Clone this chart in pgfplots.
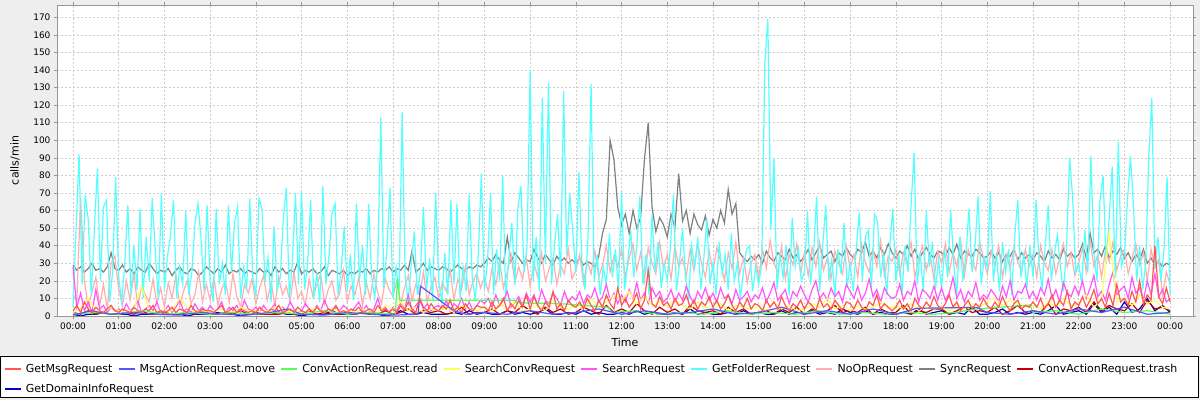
\documentclass[border=0pt]{standalone}
\usepackage{fontspec}
\setmainfont{DejaVu Sans}
\usepackage{pgfplots}
\usepackage{pgfplotstable}
\pgfplotsset{compat=1.18}
\definecolor{bgc}{RGB}{238,238,238}
\definecolor{cRed}{RGB}{255,85,85}
\definecolor{cBlue}{RGB}{85,85,255}
\definecolor{cGreen}{RGB}{85,255,85}
\definecolor{cYellow}{RGB}{255,255,85}
\definecolor{cMag}{RGB}{255,85,255}
\definecolor{cCyan}{RGB}{85,255,255}
\definecolor{cPink}{RGB}{255,175,175}
\definecolor{cGray}{RGB}{128,128,128}
\definecolor{cDRed}{RGB}{192,0,0}
\definecolor{cDBlue}{RGB}{0,0,192}
\definecolor{gridc}{RGB}{205,205,205}
\definecolor{axc}{RGB}{150,150,150}

% SyncRequest, every 5 min
\pgfplotstableread[header=false,row sep=\\]{
29\\26\\28\\25\\27\\30\\26\\27\\25\\28\\36\\27\\
26\\29\\25\\27\\24\\28\\26\\25\\30\\27\\24\\26\\
25\\27\\23\\26\\28\\25\\24\\27\\26\\23\\25\\28\\
26\\24\\27\\25\\29\\24\\26\\25\\27\\24\\26\\25\\
24\\27\\25\\26\\23\\28\\25\\27\\24\\26\\25\\31\\
24\\26\\25\\27\\24\\25\\28\\23\\26\\25\\24\\26\\
23\\25\\24\\26\\25\\27\\24\\26\\25\\27\\26\\28\\
25\\27\\26\\29\\26\\37\\25\\27\\30\\26\\28\\27\\
26\\28\\27\\25\\27\\29\\27\\26\\28\\27\\29\\28\\
30\\33\\31\\35\\32\\30\\45\\31\\36\\33\\30\\32\\
31\\38\\33\\30\\35\\32\\29\\34\\31\\33\\30\\32\\
30\\33\\29\\31\\30\\28\\34\\47\\55\\100\\89\\62\\
52\\58\\47\\60\\50\\56\\89\\110\\62\\48\\56\\52\\
45\\58\\50\\81\\54\\60\\47\\58\\52\\49\\57\\46\\
55\\50\\60\\53\\72\\58\\64\\36\\33\\31\\34\\32\\
35\\30\\37\\33\\31\\36\\34\\32\\38\\33\\35\\31\\
34\\38\\32\\36\\40\\33\\35\\37\\31\\36\\34\\39\\
35\\33\\38\\36\\42\\34\\37\\33\\39\\35\\41\\36\\
33\\37\\35\\40\\34\\38\\32\\36\\39\\35\\33\\37\\
36\\34\\39\\35\\41\\33\\37\\35\\34\\38\\36\\33\\
34\\37\\33\\36\\31\\35\\34\\38\\32\\36\\33\\35\\
32\\36\\34\\31\\37\\33\\35\\32\\38\\34\\36\\33\\
35\\41\\33\\47\\36\\38\\34\\40\\33\\37\\35\\39\\
33\\36\\31\\35\\32\\38\\30\\33\\29\\31\\28\\30\\
29\\
}\tGray

% NoOpRequest, every 5 min
\pgfplotstableread[header=false,row sep=\\]{
12\\8\\67\\20\\5\\14\\22\\6\\18\\4\\30\\34\\
15\\6\\20\\9\\24\\5\\17\\12\\8\\21\\7\\16\\
5\\19\\10\\23\\6\\14\\20\\7\\12\\25\\8\\18\\
9\\22\\6\\15\\20\\8\\24\\11\\5\\18\\13\\21\\
7\\16\\23\\9\\19\\6\\22\\12\\17\\8\\25\\10\\
14\\6\\21\\11\\18\\24\\7\\15\\20\\9\\13\\26\\
8\\17\\12\\22\\6\\19\\10\\24\\13\\7\\21\\15\\
11\\20\\7\\16\\23\\9\\18\\12\\25\\8\\17\\22\\
10\\19\\14\\26\\9\\21\\15\\28\\12\\20\\24\\16\\
22\\14\\27\\18\\31\\16\\25\\35\\19\\28\\21\\33\\
17\\30\\22\\36\\20\\27\\33\\18\\29\\24\\38\\21\\
26\\35\\19\\31\\24\\37\\22\\29\\40\\25\\34\\28\\
38\\22\\33\\41\\26\\36\\20\\39\\30\\24\\42\\27\\
35\\21\\40\\28\\33\\23\\38\\26\\41\\30\\22\\37\\
25\\39\\31\\20\\36\\27\\42\\24\\33\\19\\30\\35\\
22\\38\\27\\43\\30\\25\\40\\21\\35\\29\\41\\24\\
36\\23\\39\\28\\42\\26\\33\\21\\37\\30\\24\\40\\
27\\35\\22\\41\\30\\25\\38\\28\\43\\23\\34\\31\\
38\\24\\36\\29\\42\\22\\33\\40\\26\\35\\21\\37\\
30\\41\\25\\36\\28\\43\\23\\38\\31\\26\\42\\33\\
24\\37\\29\\40\\22\\35\\27\\39\\31\\25\\38\\28\\
35\\22\\40\\30\\26\\38\\24\\33\\41\\28\\36\\23\\
30\\39\\25\\43\\28\\35\\22\\37\\31\\42\\26\\34\\
38\\24\\33\\41\\29\\36\\20\\38\\27\\32\\12\\25\\
18\\
}\tPink

% GetFolderRequest, every 4 min
\pgfplotstableread[header=false,row sep=\\]{
5\\49\\92\\18\\69\\55\\12\\49\\84\\20\\62\\66\\8\\25\\79\\
22\\8\\30\\63\\12\\40\\15\\61\\10\\45\\20\\67\\37\\9\\70\\
15\\34\\46\\66\\10\\28\\18\\60\\12\\25\\52\\64\\45\\14\\63\\
20\\8\\61\\18\\30\\12\\63\\25\\53\\62\\10\\28\\15\\67\\22\\
12\\67\\61\\20\\33\\8\\51\\15\\22\\55\\73\\10\\31\\70\\18\\
71\\15\\30\\66\\10\\24\\8\\74\\18\\34\\59\\64\\12\\26\\51\\
14\\35\\9\\64\\20\\40\\12\\64\\22\\10\\30\\113\\16\\38\\73\\
10\\28\\14\\116\\22\\8\\30\\48\\12\\25\\62\\15\\33\\9\\70\\
20\\8\\36\\12\\66\\18\\64\\10\\28\\14\\69\\22\\9\\35\\81\\
15\\30\\70\\12\\38\\20\\80\\10\\33\\53\\18\\62\\74\\25\\40\\
140\\20\\45\\14\\124\\30\\133\\18\\40\\58\\22\\128\\35\\70\\48\\
25\\82\\30\\15\\45\\132\\20\\35\\12\\28\\18\\47\\22\\38\\15\\
71\\15\\30\\49\\22\\40\\68\\18\\35\\12\\58\\25\\42\\16\\30\\
20\\38\\69\\14\\30\\50\\22\\10\\40\\28\\45\\15\\33\\55\\18\\
30\\12\\42\\24\\35\\15\\47\\20\\30\\10\\25\\38\\40\\14\\28\\
18\\30\\143\\169\\49\\90\\15\\35\\22\\40\\12\\56\\28\\38\\20\\
25\\60\\18\\35\\68\\14\\40\\63\\20\\32\\12\\38\\24\\53\\16\\
30\\14\\38\\59\\20\\45\\49\\16\\58\\54\\22\\35\\12\\40\\61\\
20\\34\\12\\40\\25\\63\\93\\18\\36\\14\\60\\28\\42\\15\\32\\
15\\38\\22\\60\\30\\12\\45\\20\\35\\61\\25\\40\\68\\18\\33\\
28\\71\\20\\36\\14\\42\\25\\38\\12\\45\\66\\22\\35\\16\\40\\
22\\66\\30\\15\\40\\63\\20\\35\\46\\28\\14\\38\\90\\68\\25\\
30\\18\\49\\25\\91\\35\\20\\66\\80\\30\\56\\85\\22\\99\\28\\
35\\66\\91\\62\\20\\40\\15\\30\\91\\124\\28\\45\\20\\38\\79\\
12\\
}\tCyan

% SearchRequest, every 5 min
\pgfplotstableread[header=false,row sep=\\]{
28\\5\\13\\3\\8\\2\\15\\4\\6\\2\\5\\3\\
4\\2\\7\\3\\5\\9\\2\\4\\6\\3\\8\\2\\
3\\6\\2\\5\\9\\3\\4\\2\\7\\3\\5\\2\\
6\\3\\4\\8\\2\\5\\3\\6\\2\\9\\4\\3\\
5\\2\\6\\3\\4\\7\\2\\5\\3\\8\\4\\2\\
3\\7\\4\\2\\6\\3\\9\\4\\2\\5\\3\\6\\
4\\2\\5\\8\\3\\6\\2\\4\\10\\3\\5\\2\\
5\\3\\8\\4\\12\\3\\6\\9\\4\\7\\3\\5\\
6\\4\\9\\3\\7\\5\\10\\4\\8\\3\\6\\9\\
7\\10\\5\\12\\6\\9\\14\\5\\8\\11\\6\\13\\
8\\12\\6\\15\\9\\7\\13\\10\\6\\14\\8\\11\\
9\\14\\7\\12\\10\\16\\8\\11\\18\\9\\13\\7\\
12\\8\\15\\10\\19\\9\\13\\7\\16\\11\\14\\8\\
10\\15\\8\\13\\9\\17\\11\\7\\14\\10\\16\\9\\
13\\8\\16\\10\\12\\7\\15\\9\\11\\14\\8\\12\\
10\\16\\8\\13\\19\\9\\12\\15\\7\\14\\11\\17\\
12\\8\\15\\20\\10\\13\\9\\16\\11\\14\\8\\18\\
14\\10\\17\\9\\13\\21\\11\\15\\8\\16\\12\\10\\
11\\18\\9\\14\\12\\20\\8\\15\\13\\10\\17\\9\\
16\\9\\13\\22\\10\\15\\8\\14\\11\\19\\9\\12\\
10\\15\\12\\8\\17\\11\\20\\9\\14\\13\\18\\10\\
14\\9\\16\\12\\21\\10\\15\\8\\19\\13\\11\\17\\
12\\20\\10\\16\\23\\11\\14\\9\\18\\25\\12\\15\\
17\\10\\22\\13\\16\\9\\20\\12\\24\\11\\15\\8\\
10\\
}\tMag

% GetMsgRequest, every 5 min
\pgfplotstableread[header=false,row sep=\\]{
3\\6\\2\\8\\4\\2\\5\\3\\2\\4\\6\\3\\
2\\4\\3\\2\\5\\3\\2\\4\\3\\6\\2\\3\\
2\\3\\5\\2\\4\\3\\2\\6\\3\\2\\4\\3\\
3\\2\\4\\6\\2\\3\\5\\2\\4\\3\\2\\3\\
2\\5\\3\\2\\4\\3\\6\\2\\3\\4\\2\\5\\
3\\2\\4\\2\\5\\3\\2\\4\\3\\6\\2\\3\\
2\\4\\3\\5\\2\\3\\4\\2\\6\\3\\4\\2\\
4\\2\\6\\3\\8\\4\\2\\10\\5\\3\\7\\4\\
3\\6\\4\\9\\3\\5\\2\\7\\4\\3\\6\\5\\
5\\3\\8\\4\\6\\10\\3\\7\\4\\9\\5\\12\\
4\\11\\6\\3\\8\\5\\14\\4\\7\\3\\9\\6\\
5\\8\\4\\10\\6\\3\\9\\5\\12\\7\\4\\16\\
6\\10\\5\\8\\13\\4\\9\\26\\7\\5\\11\\6\\
8\\4\\10\\6\\7\\12\\5\\9\\4\\8\\6\\11\\
5\\9\\4\\7\\12\\6\\3\\8\\5\\10\\4\\7\\
6\\3\\9\\5\\8\\4\\11\\6\\3\\7\\5\\9\\
4\\8\\6\\3\\10\\5\\7\\4\\9\\6\\3\\8\\
7\\4\\9\\5\\3\\8\\6\\12\\4\\7\\5\\3\\
5\\9\\4\\7\\3\\10\\6\\4\\8\\5\\11\\6\\
4\\7\\12\\5\\8\\3\\6\\9\\4\\7\\5\\10\\
6\\4\\8\\5\\11\\6\\3\\7\\9\\4\\6\\5\\
8\\5\\10\\4\\7\\12\\5\\9\\6\\14\\4\\8\\
6\\11\\5\\9\\15\\7\\10\\5\\13\\6\\18\\8\\
10\\6\\14\\8\\20\\7\\12\\9\\40\\11\\7\\16\\
8\\
}\tRed

% SearchConvRequest, every 10 min
\pgfplotstableread[header=false,row sep=\\]{
2\\4\\10\\3\\2\\5\\
3\\2\\4\\17\\3\\2\\
4\\3\\10\\5\\2\\3\\
2\\4\\3\\2\\5\\3\\
3\\2\\4\\6\\2\\3\\
2\\3\\5\\2\\4\\3\\
3\\2\\4\\3\\2\\6\\
4\\8\\3\\5\\2\\4\\
3\\5\\2\\6\\4\\3\\
5\\3\\7\\4\\8\\3\\
4\\6\\3\\9\\5\\4\\
6\\4\\10\\5\\8\\12\\
9\\14\\7\\11\\6\\8\\
5\\9\\6\\4\\8\\5\\
4\\7\\3\\6\\5\\4\\
5\\3\\8\\4\\6\\3\\
4\\7\\5\\10\\4\\6\\
3\\6\\4\\5\\8\\4\\
6\\4\\7\\3\\5\\4\\
5\\3\\6\\4\\7\\5\\
8\\10\\6\\9\\7\\5\\
6\\4\\8\\5\\10\\6\\
7\\12\\5\\9\\47\\8\\
10\\6\\12\\7\\9\\5\\
4\\
}\tYellow

% ConvActionRequest.trash, every 10 min
\pgfplotstableread[header=false,row sep=\\]{
2\\1\\3\\1\\2\\1\\
1\\2\\1\\3\\1\\1\\
2\\1\\1\\2\\1\\3\\
1\\1\\2\\1\\3\\1\\
2\\1\\1\\1\\2\\1\\
1\\3\\1\\2\\1\\1\\
2\\1\\2\\1\\1\\3\\
1\\2\\4\\1\\3\\2\\
3\\1\\2\\5\\1\\2\\
2\\4\\1\\3\\2\\6\\
3\\1\\5\\2\\4\\1\\
2\\5\\3\\1\\6\\2\\
4\\2\\7\\3\\1\\5\\
2\\4\\1\\6\\3\\2\\
3\\1\\5\\2\\4\\1\\
2\\3\\1\\4\\2\\5\\
1\\4\\2\\3\\6\\2\\
3\\2\\5\\1\\4\\2\\
2\\6\\1\\3\\2\\4\\
4\\1\\3\\5\\2\\3\\
2\\5\\1\\3\\6\\2\\
3\\2\\7\\1\\4\\3\\
5\\2\\8\\3\\6\\4\\
3\\7\\2\\9\\4\\5\\
3\\
}\tDRed

% GetDomainInfoRequest, every 10 min
\pgfplotstableread[header=false,row sep=\\]{
1\\0\\1\\1\\2\\1\\
1\\1\\0\\1\\1\\2\\
1\\1\\1\\0\\1\\1\\
1\\2\\1\\1\\0\\1\\
1\\1\\1\\2\\1\\1\\
0\\1\\1\\1\\3\\1\\
1\\1\\2\\1\\1\\0\\
1\\3\\1\\1\\2\\1\\
1\\1\\2\\1\\3\\1\\
2\\1\\1\\3\\1\\2\\
1\\2\\4\\1\\1\\2\\
1\\3\\1\\2\\1\\1\\
2\\1\\3\\1\\2\\1\\
1\\2\\1\\4\\1\\2\\
1\\1\\2\\1\\3\\1\\
2\\1\\1\\3\\1\\2\\
1\\3\\1\\2\\1\\4\\
2\\1\\3\\1\\2\\1\\
1\\2\\1\\4\\1\\2\\
3\\1\\2\\1\\5\\1\\
1\\2\\4\\1\\2\\1\\
2\\1\\3\\6\\1\\2\\
3\\1\\7\\2\\5\\1\\
8\\2\\4\\10\\3\\6\\
2\\
}\tNavy

\pgfplotsset{
  legend image code/.code={\draw[#1] (0bp,0bp) -- (16bp,0bp);},
  legaxis/.style={at={(57bp,84bp)}, anchor=south west, scale only axis,
    width=1136bp, height=311bp, hide axis,
    xmin=0, xmax=1, ymin=0, ymax=1},
}

\begin{document}
\begin{tikzpicture}
\path[use as bounding box, fill=bgc] (0,0) rectangle (1200bp,400bp);
\draw[fill=white, draw=black, line width=0.8bp] (0.6bp,3bp) rectangle (1198bp,43.5bp);
\begin{axis}[
  at={(57bp,84bp)}, anchor=south west, scale only axis,
  width=1136bp, height=311bp,
  xmin=-0.35, xmax=24.5, ymin=0, ymax=177,
  axis background/.style={fill=white},
  axis line style={draw=axc, line width=0.6bp},
  xtick={0,1,...,24},
  xticklabels={00:00,01:00,02:00,03:00,04:00,05:00,06:00,07:00,08:00,09:00,10:00,11:00,12:00,13:00,14:00,15:00,16:00,17:00,18:00,19:00,20:00,21:00,22:00,23:00,00:00},
  ytick={0,10,...,170},
  grid=major,
  grid style={gridc, dash pattern=on 2bp off 2bp, line width=0.5bp},
  tick align=outside, major tick length=3bp,
  tick style={axc, line width=0.5bp},
  ticklabel style={font=\fontsize{9bp}{10bp}\selectfont},
  /pgf/number format/assume math mode=true,
  xlabel={Time}, ylabel={calls/min},
  label style={font=\fontsize{11bp}{13bp}\selectfont},
  xlabel style={at={(axis description cs:0.5,-0.0836)}, anchor=center},
  ylabel style={at={(axis description cs:-0.037,0.5)}, anchor=center},
]
\addplot[cDBlue, line width=1.2bp] table[x expr=\coordindex/6, y index=0] {\tNavy};
\addplot[cDRed, line width=1.2bp] table[x expr=\coordindex/6, y index=0] {\tDRed};
\addplot[cGray, line width=1.2bp] table[x expr=\coordindex/12, y index=0] {\tGray};
\addplot[cPink, line width=1.2bp] table[x expr=\coordindex/12, y index=0] {\tPink};
\addplot[cCyan, line width=1.2bp] table[x expr=\coordindex/15, y index=0] {\tCyan};
\addplot[cMag, line width=1.2bp] table[x expr=\coordindex/12, y index=0] {\tMag};
\addplot[cYellow, line width=1.2bp] table[x expr=\coordindex/6, y index=0] {\tYellow};
\addplot[cGreen, line width=1.2bp] coordinates {(0,1)(0.5,2)(1,1)(1.5,3)(2,1)(2.5,2)(3,1)(3.5,2)(4,1)(4.5,2)(5,1)(5.5,3)(6,1)(6.5,2)(7.05,1)(7.1,21)(7.15,9)(9.65,9)(9.7,7.5)(10.66,7)(11.7,5)(11.8,2)(12.3,3)(12.8,1)(13.3,2)(13.8,1)(14.3,3)(14.8,1)(15.3,2)(15.8,1)(16.3,3)(16.8,1)(17.3,2)(17.8,1)(18.3,2)(18.8,1)(19.3,2)(19.77,4)(20.94,6.3)(21.0,2)(21.5,3)(22,1)(22.5,4)(23,2)(23.5,3)(24,1)};
\addplot[cBlue, line width=1.2bp] coordinates {(0,0.5)(0.4,3)(0.8,1)(1.3,2)(1.8,1)(2.3,0.5)(2.8,2)(3.3,1)(3.8,0.5)(4.3,2)(4.7,4)(5.0,1)(5.5,0.5)(6.0,2)(6.5,1)(7.0,0.5)(7.55,1)(7.6,17)(8.33,3)(8.6,1)(9.0,2)(9.5,1)(10.0,3)(10.5,1)(11.0,2)(11.5,4)(12.0,1)(12.5,3)(13.0,1)(13.5,2)(14.0,4)(14.5,1)(15.0,2)(15.5,5)(16.0,1)(16.5,3)(17.0,1)(17.5,4)(18.0,1)(18.46,4.4)(19.77,4.9)(20.0,2)(20.5,1)(21.0,3)(21.5,1)(22.0,4)(22.5,2)(23.0,5)(23.5,1)(24.0,2)};
\addplot[cRed, line width=1.2bp] table[x expr=\coordindex/12, y index=0] {\tRed};
\end{axis}
\begin{axis}[legaxis,
  legend style={at={(axis description cs:-0.0475,-0.1704)}, anchor=west,
    draw=white, fill=white, legend columns=9, legend cell align=left,
    font=\fontsize{11bp}{12bp}\selectfont, inner sep=1bp,
    nodes={inner xsep=0bp, inner ysep=1bp},
    /tikz/every odd column/.append style={column sep=4.5bp},
    /tikz/every even column/.append style={column sep=5.5bp},
    /tikz/column 2/.append style={column sep=17bp}},
]
\addlegendimage{color=cRed, line width=1.2bp}\addlegendentry{GetMsgRequest}
\addlegendimage{color=cBlue, line width=1.2bp}\addlegendentry{MsgActionRequest.move}
\addlegendimage{color=cGreen, line width=1.2bp}\addlegendentry{ConvActionRequest.read}
\addlegendimage{color=cYellow, line width=1.2bp}\addlegendentry{SearchConvRequest}
\addlegendimage{color=cMag, line width=1.2bp}\addlegendentry{SearchRequest}
\addlegendimage{color=cCyan, line width=1.2bp}\addlegendentry{GetFolderRequest}
\addlegendimage{color=cPink, line width=1.2bp}\addlegendentry{NoOpRequest}
\addlegendimage{color=cGray, line width=1.2bp}\addlegendentry{SyncRequest}
\addlegendimage{color=cDRed, line width=1.2bp}\addlegendentry{ConvActionRequest.trash}
\end{axis}
\begin{axis}[legaxis,
  legend style={at={(axis description cs:-0.0475,-0.2347)}, anchor=west,
    draw=white, fill=white, legend cell align=left,
    font=\fontsize{11bp}{12bp}\selectfont, inner sep=1bp,
    nodes={inner xsep=0bp, inner ysep=1bp},
    /tikz/every odd column/.append style={column sep=4.5bp}},
]
\addlegendimage{color=cDBlue, line width=1.2bp}\addlegendentry{GetDomainInfoRequest}
\end{axis}
\end{tikzpicture}
\end{document}
